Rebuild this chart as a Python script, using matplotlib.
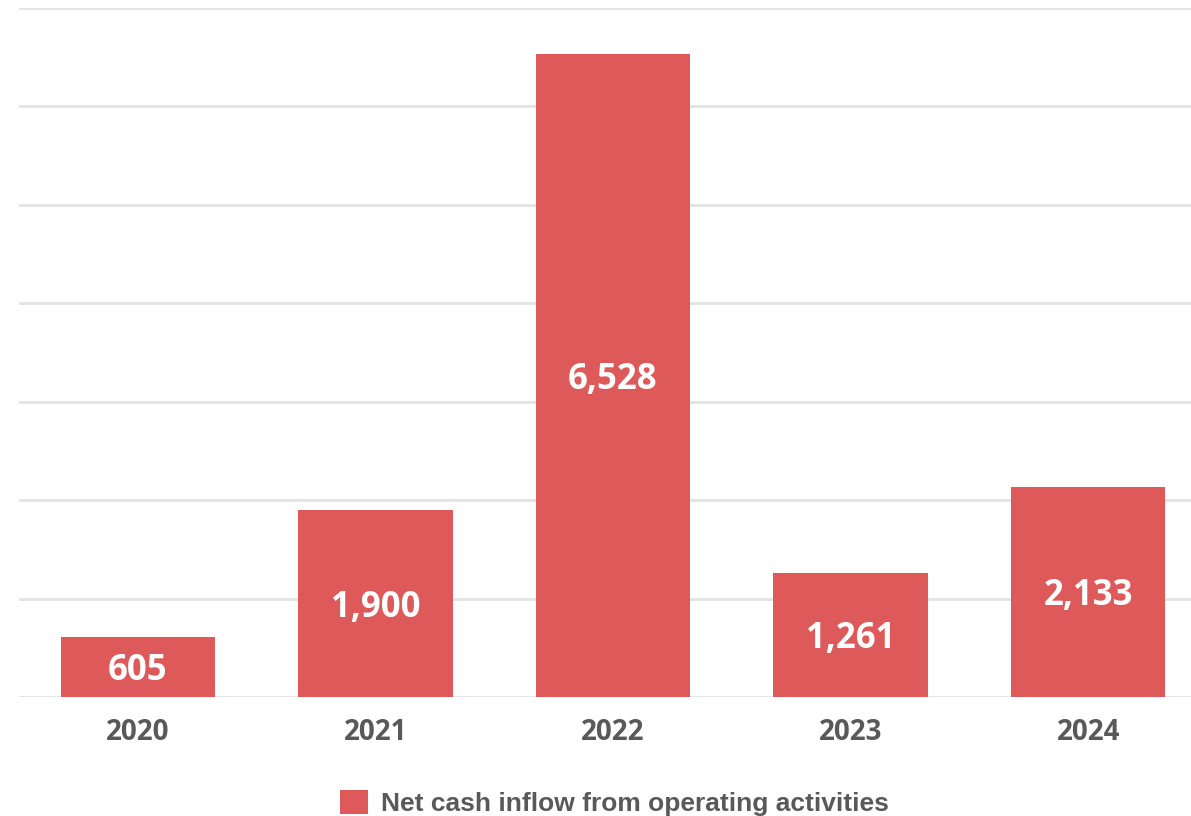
import matplotlib.pyplot as plt
from matplotlib.patches import Patch

years = ['2020', '2021', '2022', '2023', '2024']
inflow = [605, 1900, 6528, 1261, 2133]
labels = ['605', '1,900', '6,528', '1,261', '2,133']

bar_color = '#DE5A5A'
text_gray = '#595959'

fig = plt.figure(figsize=(11.91, 8.16), dpi=100)
# plot area runs slightly past the right edge of the picture
ax = fig.add_axes([19 / 1191, 1 - 697 / 816, 1188 / 1191, 689 / 816])

x = range(len(years))
bars = ax.bar(x, inflow, width=0.65, color=bar_color, zorder=3)

for b, lab in zip(bars, labels):
    ax.annotate(lab, (b.get_x() + b.get_width() / 2, b.get_height() / 2),
                xytext=(0, -3), textcoords='offset points',
                ha='center', va='center', color='white', fontsize=25,
                fontweight='bold', family='Open Sans', zorder=4)

ax.set_xlim(-0.5, 4.5)
ax.set_ylim(0, 7000)
ax.set_yticks(range(0, 7001, 1000))
ax.yaxis.grid(True, color='#E3E3E3', lw=2, zorder=0)
ax.tick_params(axis='y', left=False, labelleft=False)
ax.tick_params(axis='x', length=0, pad=15)
ax.set_xticks(list(x))
ax.set_xticklabels(years, fontsize=20, fontweight='bold', color=text_gray, family='Open Sans')
for s in ax.spines.values():
    s.set_visible(False)

legend_elements = [Patch(facecolor=bar_color, label='Net cash inflow from operating activities')]
fig.legend(handles=legend_elements, loc='center', bbox_to_anchor=(0.516, 0.016),
           frameon=False, handlelength=1.05, handleheight=1.05, handletextpad=0.5,
           prop={'family': 'Liberation Sans', 'weight': 'bold', 'size': 19}, labelcolor=text_gray)

fig.savefig('out.png', dpi=100)
